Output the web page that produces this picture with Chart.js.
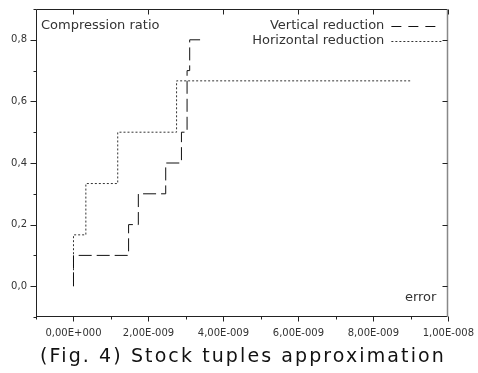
<!DOCTYPE html>
<html>
<head>
<meta charset="utf-8">
<script src="https://cdn.jsdelivr.net/npm/chart.js@4/dist/chart.umd.min.js"></script>
<style>
  html, body { margin: 0; padding: 0; background: #fff; }
  #wrap { position: relative; width: 478px; height: 373px; }
  #caption { position: absolute; left: 0; width: 486px; top: 341px; text-align: center;
    font-family: "DejaVu Sans", sans-serif; font-size: 19px; letter-spacing: 2.1px; color: #111; line-height: 28px; }
</style>
</head>
<body>
<div id="wrap">
  <canvas id="c" width="478" height="373"></canvas>
  <div id="caption">(Fig. 4) Stock tuples approximation</div>
</div>
<script>
// ---- data ----
const verticalX = [0, 0, 1.47e-9, 1.73e-9, 2.46e-9, 2.88e-9, 3.03e-9, 3.10e-9, 3.40e-9];
const verticalY = [0, 0.1, 0.2, 0.3, 0.4, 0.5, 0.7, 0.8, 0.8];
const horizontalX = [0, 0, 0.33e-9, 1.18e-9, 2.75e-9, 9.0e-9];
const horizontalY = [0, 0.1667, 0.3333, 0.5, 0.6667, 0.6667];
const seriesLabels = ['Vertical reduction', 'Horizontal reduction'];
const xTickValues = [0, 2e-9, 4e-9, 6e-9, 8e-9, 1e-8];
const xTickLabels = ['0,00E+000', '2,00E-009', '4,00E-009', '6,00E-009', '8,00E-009', '1,00E-008'];
const xMinorValues = [-1e-9, 1e-9, 3e-9, 5e-9, 7e-9, 9e-9];
const yTickValues = [0, 0.2, 0.4, 0.6, 0.8];
const yTickLabels = ['0,0', '0,2', '0,4', '0,6', '0,8'];
const yMinorValues = [-0.1, 0.1, 0.3, 0.5, 0.7, 0.9];
const yAxisTitle = 'Compression ratio';
const xAxisTitle = 'error';

const toPts = (xs, ys) => xs.map((x, i) => ({ x: x, y: ys[i] }));

const frame = {
  id: 'frame',
  afterDraw(chart) {
    const ctx = chart.ctx;
    const a = chart.chartArea;
    const xs = chart.scales.x, ys = chart.scales.y;
    ctx.save();
    ctx.lineWidth = 1;
    const L = Math.round(a.left) + 0.5, R = Math.round(a.right) - 0.5;
    const T = Math.round(a.top) + 0.5, B = Math.round(a.bottom) - 0.5;
    ctx.strokeStyle = '#222';
    ctx.beginPath();
    ctx.moveTo(L, T); ctx.lineTo(R, T);
    ctx.moveTo(L, T); ctx.lineTo(L, B + 0.5);
    ctx.moveTo(L, B); ctx.lineTo(R, B);
    ctx.stroke();
    ctx.strokeStyle = '#888';
    ctx.lineWidth = 1.5;
    ctx.beginPath(); ctx.moveTo(R, T); ctx.lineTo(R, B); ctx.stroke();
    ctx.lineWidth = 1;
    ctx.strokeStyle = '#222';
    ctx.beginPath();
    xTickValues.forEach(v => {
      const p = Math.round(xs.getPixelForValue(v)) + 0.5;
      ctx.moveTo(p, B); ctx.lineTo(p, B + 5);
      ctx.moveTo(p, T); ctx.lineTo(p, T + 5);
    });
    xMinorValues.forEach(v => {
      const p = Math.round(xs.getPixelForValue(v)) + 0.5;
      ctx.moveTo(p, B); ctx.lineTo(p, B + 3);
    });
    yTickValues.forEach(v => {
      const p = Math.round(ys.getPixelForValue(v)) + 0.5;
      ctx.moveTo(L, p); ctx.lineTo(L - 6, p);
      ctx.moveTo(R, p); ctx.lineTo(R - 5, p);
    });
    yMinorValues.forEach(v => {
      const p = Math.round(ys.getPixelForValue(v)) + 0.5;
      ctx.moveTo(L, p); ctx.lineTo(L - 3, p);
    });
    ctx.stroke();
    ctx.fillStyle = '#333';
    ctx.font = '13px "DejaVu Sans"';
    ctx.textBaseline = 'middle';
    ctx.textAlign = 'left';
    ctx.fillText(yAxisTitle, a.left + 5, a.top + 17);
    ctx.textAlign = 'right';
    ctx.fillText(xAxisTitle, a.right - 12, a.bottom - 19);
    const ds = chart.data.datasets;
    const legY = [a.top + 17, a.top + 32];
    ds.forEach((d, i) => {
      ctx.fillStyle = '#333';
      ctx.fillText(d.label, a.right - 64, legY[i]);
      ctx.strokeStyle = d.borderColor;
      ctx.setLineDash(i === 0 ? [10, 7] : [2, 2]);
      ctx.beginPath();
      const yy = Math.round(legY[i]) + 0.5;
      ctx.moveTo(a.right - 57, yy); ctx.lineTo(a.right - 6, yy);
      ctx.stroke();
    });
    ctx.setLineDash([]);
    ctx.restore();
  }
};

new Chart(document.getElementById('c'), {
  type: 'line',
  data: {
    datasets: [
      { label: seriesLabels[0], data: toPts(verticalX, verticalY), stepped: 'before',
        borderColor: '#111', borderWidth: 1, borderDash: [13, 5], pointRadius: 0, fill: false },
      { label: seriesLabels[1], data: toPts(horizontalX, horizontalY), stepped: 'before',
        borderColor: '#333', borderWidth: 1, borderDash: [2, 2], pointRadius: 0, fill: false }
    ]
  },
  plugins: [frame],
  options: {
    responsive: false,
    animation: false,
    layout: { padding: { left: 0, right: 26, top: 6, bottom: 36 } },
    plugins: { legend: { display: false }, tooltip: { enabled: false }, title: { display: false } },
    scales: {
      x: {
        type: 'linear', min: -1e-9, max: 1e-8,
        afterBuildTicks: s => { s.ticks = xTickValues.map(v => ({ value: v })); },
        afterFit: s => { s.height = 20; },
        grid: { display: true, drawOnChartArea: false, tickLength: 6, tickColor: 'rgba(0,0,0,0)' },
        border: { display: false },
        ticks: { padding: 4, autoSkip: false, maxRotation: 0, color: '#333',
          font: { family: 'DejaVu Sans', size: 10 },
          callback: (v) => { const i = xTickValues.findIndex(t => Math.abs(t - v) < 1e-12); return i >= 0 ? xTickLabels[i] : ''; } }
      },
      y: {
        type: 'linear', min: -0.1, max: 0.9,
        afterBuildTicks: s => { s.ticks = yTickValues.map(v => ({ value: v })); },
        afterFit: s => { s.width = 36; },
        grid: { display: true, drawOnChartArea: false, tickLength: 6, tickColor: 'rgba(0,0,0,0)' },
        border: { display: false },
        ticks: { padding: 3, color: '#333', font: { family: 'DejaVu Sans', size: 10 },
          callback: (v) => { const i = yTickValues.findIndex(t => Math.abs(t - v) < 1e-9); return i >= 0 ? yTickLabels[i] : ''; } }
      }
    }
  }
});
</script>
</body>
</html>
